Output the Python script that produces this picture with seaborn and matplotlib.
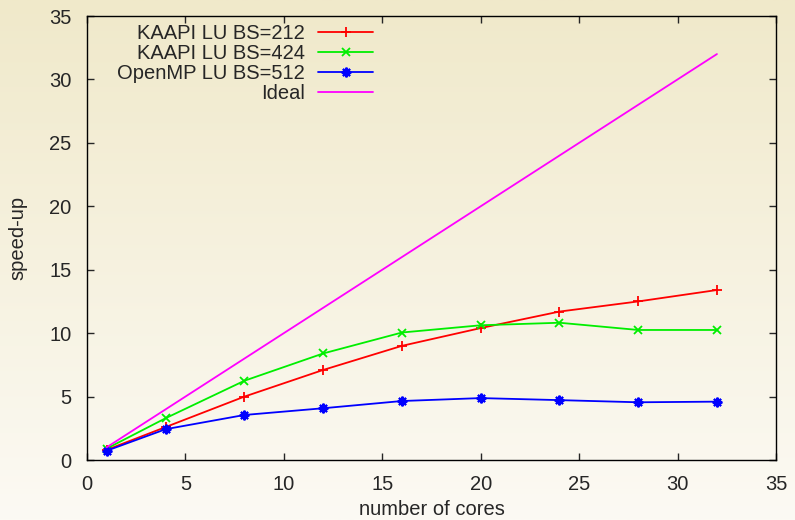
import numpy as np
import pandas as pd
import matplotlib
matplotlib.use("Agg")
import matplotlib.pyplot as plt
import seaborn as sns

cores = [1, 4, 8, 12, 16, 20, 24, 28, 32]
kaapi_212 = [0.8, 2.6, 5.0, 7.1, 9.0, 10.4, 11.7, 12.5, 13.4]
kaapi_424 = [0.9, 3.3, 6.25, 8.4, 10.05, 10.62, 10.82, 10.25, 10.25]
openmp_512 = [0.73, 2.43, 3.55, 4.08, 4.65, 4.88, 4.72, 4.55, 4.6]
ideal_x = [1, 32]
ideal_y = [1, 32]
labels = ["KAAPI LU BS=212", "KAAPI LU BS=424", "OpenMP LU BS=512", "Ideal"]
colors = ["#ff0000", "#00ee00", "#0000ff", "#ff00ff"]

FS = 14.5

sns.set_style("ticks")
plt.rcParams["font.family"] = ["Liberation Sans", "DejaVu Sans"]
plt.rcParams["font.size"] = FS

fig = plt.figure(figsize=(7.95, 5.2), dpi=100)
bg = fig.add_axes([0, 0, 1, 1], zorder=-10)
grad = np.linspace(0, 1, 256).reshape(-1, 1)
top = np.array([240, 233, 202]) / 255.0
bot = np.array([252, 250, 244]) / 255.0
img = top[None, None, :] * (1 - grad[:, :, None]) + bot[None, None, :] * grad[:, :, None]
bg.imshow(img, aspect="auto", extent=[0, 1, 0, 1])
bg.axis("off")

ax = fig.add_axes([87 / 795, 60 / 520, 689 / 795, 444 / 520])
ax.patch.set_alpha(0)

frames = [
    (pd.DataFrame({"x": cores, "y": kaapi_212}), labels[0], colors[0], "+", 7, 1.3),
    (pd.DataFrame({"x": cores, "y": kaapi_424}), labels[1], colors[1], "x", 5.5, 1.3),
    (pd.DataFrame({"x": cores, "y": openmp_512}), labels[2], colors[2], (8, 2, 0), 7, 1.5),
]
for df, lab, col, mk, ms, mew in frames:
    sns.lineplot(data=df, x="x", y="y", ax=ax, color=col, label=lab, marker=mk,
                 markersize=ms, markeredgewidth=mew, markeredgecolor=col, linewidth=1.3)
sns.lineplot(data=pd.DataFrame({"x": ideal_x, "y": ideal_y}), x="x", y="y", ax=ax,
             color=colors[3], label=labels[3], linewidth=1.3)

ax.set_xlim(0, 35)
ax.set_ylim(0, 35)
ax.set_xticks(range(0, 36, 5))
ax.set_yticks(range(0, 36, 5))
ax.tick_params(direction="in", length=5, width=1, top=True, right=True, labelsize=FS)
ax.tick_params(axis="x", pad=11)
ax.tick_params(axis="y", pad=11)
for s in ax.spines.values():
    s.set_visible(True)
    s.set_linewidth(1)
    s.set_color("black")
ax.set_xlabel("number of cores", fontsize=FS, labelpad=4)
ax.set_ylabel("speed-up", fontsize=FS, labelpad=16)

leg = ax.legend(loc="upper left", bbox_to_anchor=(0.032, 1.0), frameon=False, markerfirst=False,
                handlelength=2.75, fontsize=FS, labelspacing=0.05, handletextpad=0.65,
                borderaxespad=0.0)
for t in leg.get_texts():
    t.set_ha("right")
leg._legend_box.align = "right"

fig.savefig("out.png", dpi=100)
